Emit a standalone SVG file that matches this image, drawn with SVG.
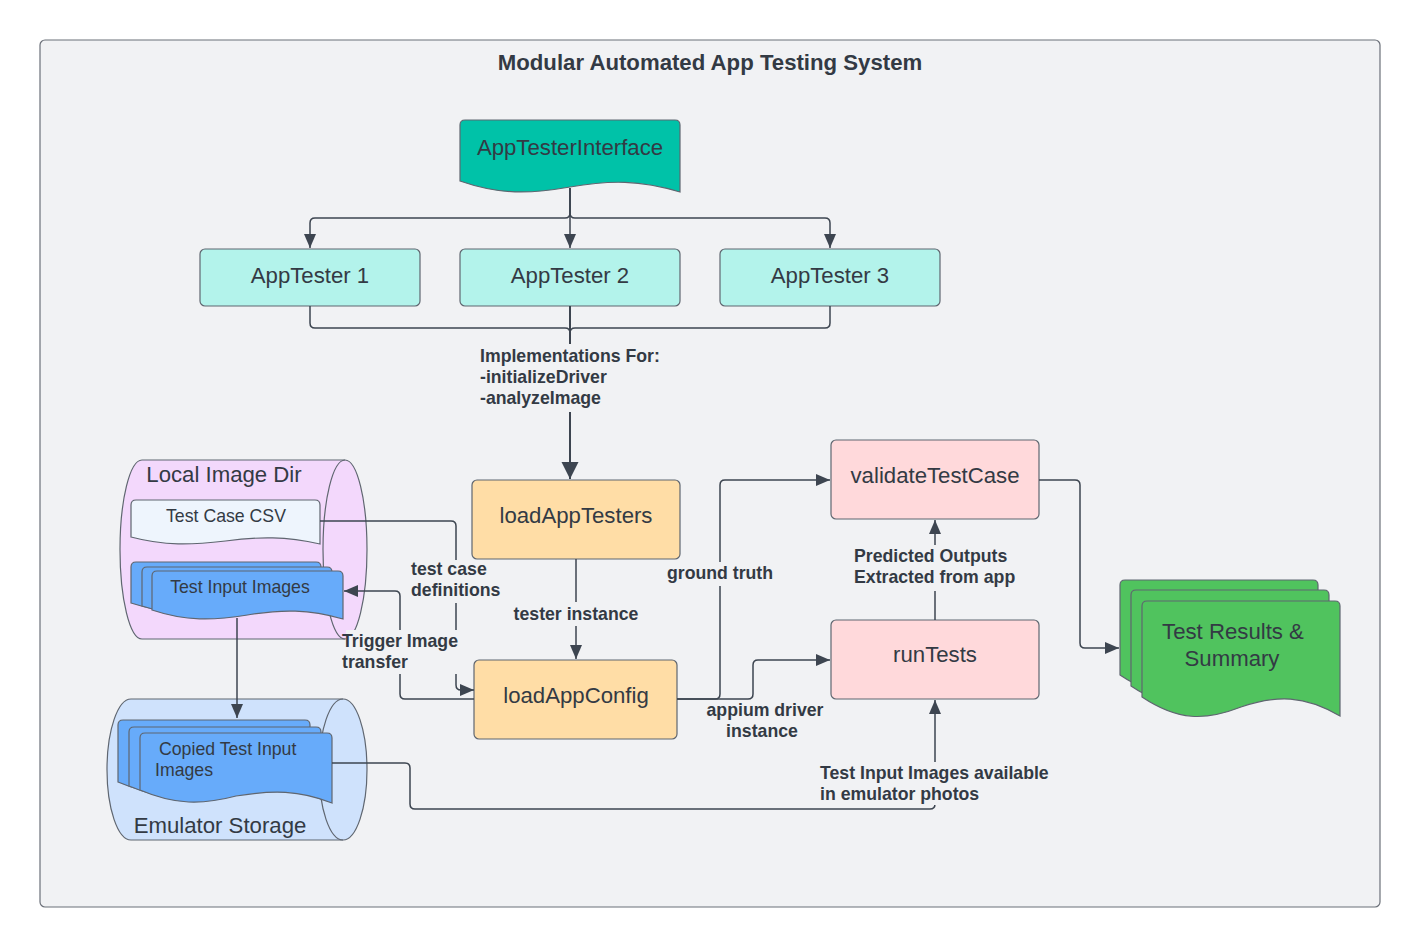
<svg xmlns="http://www.w3.org/2000/svg" width="1420" height="948" viewBox="0 0 1420 948">
<style>
  text { font-family: "Liberation Sans", Arial, sans-serif; fill: #333a44; }
  .big { font-size: 22.2px; }
  .mid { font-size: 17.7px; }
  .lbl { font-size: 17.7px; font-weight: bold; }
  .node { stroke: #5f6670; stroke-width: 1.2; }
  .conn { fill: none; stroke: #3d4550; stroke-width: 1.5; }
  .bg { fill: #f1f2f4; stroke: none; }
</style>
<defs>
  <marker id="arr" markerUnits="userSpaceOnUse" markerWidth="16" markerHeight="14" refX="14" refY="6" orient="auto">
    <path d="M0,0 L14,6 L0,12 Z" fill="#3d4550"/>
  </marker>
  <marker id="arrBig" markerUnits="userSpaceOnUse" markerWidth="20" markerHeight="20" refX="17" refY="8.5" orient="auto">
    <path d="M0,0 L17,8.5 L0,17 Z" fill="#3d4550"/>
  </marker>
</defs>
<rect width="1420" height="948" fill="#ffffff"/>
<g id="container">
  <rect x="40" y="40" width="1340" height="867" rx="5" fill="#f1f2f4" stroke="#6b7079" stroke-width="1.2"/>
  <text x="710" y="70" text-anchor="middle" style="font-size:22.2px;font-weight:bold">Modular Automated App Testing System</text>
</g>

<g id="appTesterInterface">
  <path class="node" fill="#00c2a8" d="M460,181 V125 Q460,120 465,120 H675 Q680,120 680,125 V192 C640,180 610,180 570,187 C530,194 500,195 460,181 Z"/>
  <text class="big" x="570" y="155" text-anchor="middle">AppTesterInterface</text>
</g>
<g id="appTester1">
  <rect class="node" x="200" y="249" width="220" height="57" rx="5" fill="#b3f3eb"/>
  <text class="big" x="310" y="283" text-anchor="middle">AppTester 1</text>
</g>
<g id="appTester2">
  <rect class="node" x="460" y="249" width="220" height="57" rx="5" fill="#b3f3eb"/>
  <text class="big" x="570" y="283" text-anchor="middle">AppTester 2</text>
</g>
<g id="appTester3">
  <rect class="node" x="720" y="249" width="220" height="57" rx="5" fill="#b3f3eb"/>
  <text class="big" x="830" y="283" text-anchor="middle">AppTester 3</text>
</g>
<g id="loadAppTesters">
  <rect class="node" x="472" y="480" width="208" height="79" rx="5" fill="#ffdda6"/>
  <text class="big" x="576" y="523" text-anchor="middle">loadAppTesters</text>
</g>
<g id="loadAppConfig">
  <rect class="node" x="474" y="660" width="203" height="79" rx="5" fill="#ffdda6"/>
  <text class="big" x="576" y="703" text-anchor="middle">loadAppConfig</text>
</g>
<g id="validateTestCase">
  <rect class="node" x="831" y="440" width="208" height="79" rx="5" fill="#ffd9db"/>
  <text class="big" x="935" y="483" text-anchor="middle">validateTestCase</text>
</g>
<g id="runTests">
  <rect class="node" x="831" y="620" width="208" height="79" rx="5" fill="#ffd9db"/>
  <text class="big" x="935" y="662" text-anchor="middle">runTests</text>
</g>

<g id="localImageDir">
  <path class="node" fill="#f3d8fc" d="M142,460 H345 A22,89.5 0 0 1 345,639 H142 A22,89.5 0 0 1 142,460 Z"/>
  <path class="node" fill="none" d="M345,460 A22,89.5 0 0 0 345,639"/>
  <text class="big" x="224" y="482" text-anchor="middle">Local Image Dir</text>
</g>
<g id="testCaseCsv">
  <path class="node" fill="#eef5fd" d="M131,537 V505 Q131,500 136,500 H315 Q320,500 320,505 V544 C286,536.4 259.5,536.4 225.5,541 C191,545 165,546 131,537 Z"/>
  <text class="mid" x="226" y="522" text-anchor="middle">Test Case CSV</text>
</g>
<g id="testInputImages">
  <path class="node" fill="#67abfa" d="M131,603 V567 Q131,562 136,562 H316 Q321,562 321,567 V612 C287,602 260,602 226,608 C192,614 165,614 131,603 Z"/>
  <path class="node" fill="#67abfa" d="M142,606 V572 Q142,567 147,567 H327 Q332,567 332,572 V615 C298,605 271,605 237,611 C203,617 176,617 142,606 Z"/>
  <path class="node" fill="#67abfa" d="M152,610 V576 Q152,571 157,571 H338 Q343,571 343,576 V619 C308.6,609.2 282,609.2 247.5,615 C213,620.6 186,621.4 152,610 Z"/>
  <text class="mid" x="240" y="593" text-anchor="middle">Test Input Images</text>
</g>

<g id="emulatorStorage">
  <path class="node" fill="#cfe2fc" d="M131,699 H343 A24,70.5 0 0 1 343,840 H131 A24,70.5 0 0 1 131,699 Z"/>
  <path class="node" fill="none" d="M343,699 A24,70.5 0 0 0 343,840"/>
  <text class="big" x="220" y="833" text-anchor="middle">Emulator Storage</text>
</g>
<g id="copiedTestInputImages">
  <path class="node" fill="#67abfa" d="M118,782 V725 Q118,720 123,720 H305 Q310,720 310,725 V795 C277,782 251,782 214,788 C180,797 153,797 118,782 Z"/>
  <path class="node" fill="#67abfa" d="M129,786 V732 Q129,727 134,727 H316 Q321,727 321,732 V799 C288,786 262,786 225,792 C191,801 164,801 129,786 Z"/>
  <path class="node" fill="#67abfa" d="M140,790 V738 Q140,733 145,733 H327 Q332,733 332,738 V803 C299,790 273,790 236,796 C202,805 175,805 140,790 Z"/>
  <text class="mid" x="159" y="755">Copied Test Input</text>
  <text class="mid" x="155" y="776">Images</text>
</g>

<g id="testResults">
  <path class="node" fill="#50c35e" d="M1120,675 V585 Q1120,580 1125,580 H1313 Q1318,580 1318,585 V694 C1282,673 1255,673 1219,685 C1183,699 1156,699 1120,675 Z"/>
  <path class="node" fill="#50c35e" d="M1131,686 V595 Q1131,590 1136,590 H1324 Q1329,590 1329,595 V705 C1293,684 1266,684 1230,696 C1194,710 1167,710 1131,686 Z"/>
  <path class="node" fill="#50c35e" d="M1142,697 V606 Q1142,601 1147,601 H1335 Q1340,601 1340,606 V716 C1304,695 1277,695 1241,707 C1205,721 1178,721 1142,697 Z"/>
  <text class="big" x="1233" y="639" text-anchor="middle">Test Results &amp;</text>
  <text class="big" x="1232" y="666" text-anchor="middle">Summary</text>
</g>

<g id="connectors">
  <path class="conn" d="M570,188 V213 Q570,218 565,218 H315 Q310,218 310,223 V248" marker-end="url(#arr)"/>
  <path class="conn" d="M570,188 V248" marker-end="url(#arr)"/>
  <path class="conn" d="M570,188 V213 Q570,218 575,218 H825 Q830,218 830,223 V248" marker-end="url(#arr)"/>
  <path class="conn" d="M310,306 V323 Q310,328 315,328 H565 Q570,328 570,333"/>
  <path class="conn" d="M830,306 V323 Q830,328 825,328 H575 Q570,328 570,333"/>
  <path class="conn" style="stroke-width:2" d="M570,306 V479" marker-end="url(#arrBig)"/>
  <path class="conn" d="M576,559 V659" marker-end="url(#arr)"/>
  <path class="conn" d="M677,699 H715 Q720,699 720,694 V485 Q720,480 725,480 H830" marker-end="url(#arr)"/>
  <path class="conn" d="M677,699 H748 Q753,699 753,694 V665 Q753,660 758,660 H830" marker-end="url(#arr)"/>
  <path class="conn" d="M935,620 V520" marker-end="url(#arr)"/>
  <path class="conn" d="M1039,480 H1075 Q1080,480 1080,485 V643 Q1080,648 1085,648 H1119" marker-end="url(#arr)"/>
  <path class="conn" d="M332,763 H405 Q410,763 410,768 V804 Q410,809 415,809 H930 Q935,809 935,804 V700" marker-end="url(#arr)"/>
  <path class="conn" d="M320,521 H451 Q456,521 456,526 V685 Q456,690 461,690 H474" marker-end="url(#arr)"/>
  <path class="conn" d="M474,699 H405 Q400,699 400,694 V596 Q400,591 395,591 H344" marker-end="url(#arr)"/>
  <path class="conn" d="M237,618 V718" marker-end="url(#arr)"/>

  <rect class="bg" x="477" y="344" width="188" height="68"/>
  <text class="lbl" x="480" y="362">Implementations For:</text>
  <text class="lbl" x="480" y="383">-initializeDriver</text>
  <text class="lbl" x="480" y="404">-analyzeImage</text>

  <rect class="bg" x="510" y="602" width="132" height="24"/>
  <text class="lbl" x="576" y="620" text-anchor="middle">tester instance</text>

  <rect class="bg" x="664" y="562" width="112" height="24"/>
  <text class="lbl" x="720" y="579" text-anchor="middle">ground truth</text>

  <text class="lbl" x="765" y="716" text-anchor="middle">appium driver</text>
  <text class="lbl" x="762" y="737" text-anchor="middle">instance</text>

  <rect class="bg" x="851" y="545" width="164" height="46"/>
  <text class="lbl" x="854" y="562">Predicted Outputs</text>
  <text class="lbl" x="854" y="583">Extracted from app</text>

  <rect class="bg" x="817" y="762" width="236" height="43"/>
  <text class="lbl" x="820" y="779">Test Input Images available</text>
  <text class="lbl" x="820" y="800">in emulator photos</text>

  <rect class="bg" x="409" y="560" width="94" height="43"/>
  <text class="lbl" x="411" y="575">test case</text>
  <text class="lbl" x="411" y="596">definitions</text>

  <rect class="bg" x="346" y="630" width="116" height="44"/>
  <text class="lbl" x="342" y="647">Trigger Image</text>
  <text class="lbl" x="342" y="668">transfer</text>
</g>
</svg>
